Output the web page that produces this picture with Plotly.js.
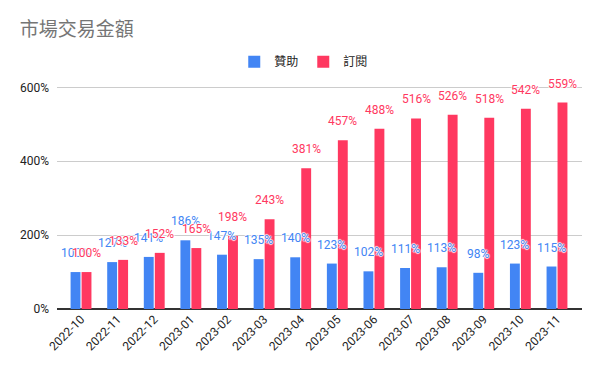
<!DOCTYPE html>
<html><head><meta charset="utf-8">
<script src="https://cdn.plot.ly/plotly-3.0.1.min.js"></script>
<style>html,body{margin:0;padding:0;background:#fff}#c{width:600px;height:371px}</style>
</head><body><div id="c"></div>
<script>
const months = ["2022-10","2022-11","2022-12","2023-01","2023-02","2023-03","2023-04","2023-05","2023-06","2023-07","2023-08","2023-09","2023-10","2023-11"];
const sponsor = [100,127,141,186,147,135,140,123,102,111,113,98,123,115];
const subscribe = [100,133,152,165,198,243,381,457,488,516,526,518,542,559];
const yTicks = [0,200,400,600];
const yTickText = ["0%","200%","400%","600%"];
const BLUE = "#4285f4", RED = "#ff3860";
const halo = "1px 0 1px #fff, -1px 0 1px #fff, 0 1px 1px #fff, 0 -1px 1px #fff";
function tr(name, vals, color){
  return {type:"bar", name:name, x:months, y:vals, marker:{color:color}, hoverinfo:"none"};
}
const data = [tr("贊助", sponsor, BLUE), tr("訂閱", subscribe, RED)];
function labels(vals, color, dx){
  return vals.map((v,i)=>({x:months[i], y:v, xref:"x", yref:"y", text:v+"%", showarrow:false,
    xanchor:"center", yanchor:"middle", xshift:dx, yshift:19,
    font:{color:color, size:12, family:"Roboto, sans-serif", shadow:halo}}));
}
const layout = {
  width:600, height:371,
  margin:{l:57, r:18, t:80, b:62},
  paper_bgcolor:"#fff", plot_bgcolor:"#fff",
  font:{family:"Roboto, 'Noto Sans CJK TC', sans-serif", color:"#222"},
  title:{text:"市場交易金額", x:0.033, xanchor:"left", y:0.92, yanchor:"middle",
    font:{size:19, color:"#757575", family:"'Noto Sans CJK TC', sans-serif"}},
  showlegend:true,
  legend:{orientation:"h", x:0.47, xanchor:"center", y:1.08, yanchor:"middle",
    font:{size:12, color:"#222", family:"'Noto Sans CJK TC', sans-serif"}, itemwidth:30},
  barmode:"group", bargap:0.4, bargroupgap:0.1,
  xaxis:{type:"category", range:[-0.656, 13.683], tickangle:-45, tickfont:{size:12, color:"#222"}, showgrid:false, showline:false, ticks:""},
  yaxis:{range:[0,620], tickvals:yTicks, ticktext:yTickText, tickfont:{size:12, color:"#222"},
    gridcolor:"#ccc", zeroline:true, zerolinecolor:"#333", zerolinewidth:1.5, ticks:"", ticklabelstandoff:7},
  annotations: labels(sponsor, BLUE, -5.5).concat(labels(subscribe, RED, 5.5))
};
Plotly.newPlot("c", data, layout, {displayModeBar:false, staticPlot:true});
</script></body></html>
